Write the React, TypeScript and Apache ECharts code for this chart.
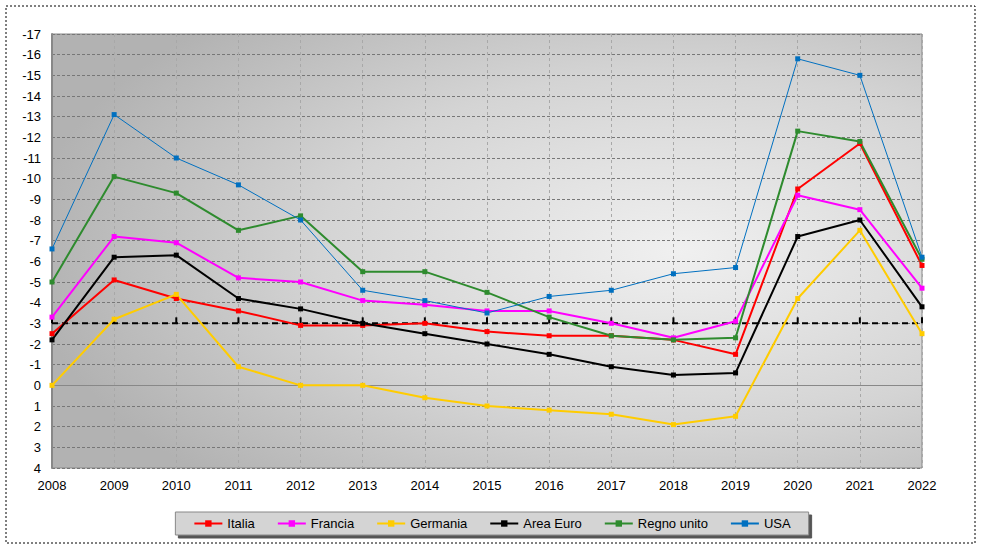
import React, { useEffect, useRef } from "react";
import * as echarts from "echarts";

const years = ["2008","2009","2010","2011","2012","2013","2014","2015","2016","2017","2018","2019","2020","2021","2022"];
const italia = [-2.5,-5.1,-4.2,-3.6,-2.9,-2.9,-3.0,-2.6,-2.4,-2.4,-2.2,-1.5,-9.5,-11.7,-5.8];
const francia = [-3.3,-7.2,-6.9,-5.2,-5.0,-4.1,-3.9,-3.6,-3.6,-3.0,-2.3,-3.1,-9.2,-8.5,-4.7];
const germania = [0.0,-3.2,-4.4,-0.9,0.0,0.0,0.6,1.0,1.2,1.4,1.9,1.5,-4.2,-7.5,-2.5];
const areaEuro = [-2.2,-6.2,-6.3,-4.2,-3.7,-3.0,-2.5,-2.0,-1.5,-0.9,-0.5,-0.6,-7.2,-8.0,-3.8];
const regnoUnito = [-5.0,-10.1,-9.3,-7.5,-8.2,-5.5,-5.5,-4.5,-3.3,-2.4,-2.2,-2.3,-12.3,-11.8,-6.1];
const usa = [-6.6,-13.1,-11.0,-9.7,-8.0,-4.6,-4.1,-3.5,-4.3,-4.6,-5.4,-5.7,-15.8,-15.0,-6.2];
const soglia = [-3,-3,-3,-3,-3,-3,-3,-3,-3,-3,-3,-3,-3,-3,-3];

const seriesDefs = [
  { name: "Italia", data: italia, color: "#ff0000", width: 2 },
  { name: "Francia", data: francia, color: "#ff00ff", width: 2 },
  { name: "Germania", data: germania, color: "#ffcc00", width: 2 },
  { name: "Area Euro", data: areaEuro, color: "#000000", width: 2 },
  { name: "Regno unito", data: regnoUnito, color: "#2e8b2e", width: 2 },
  { name: "USA", data: usa, color: "#0070c0", width: 1 },
];

export default function App() {
  const ref = useRef<HTMLDivElement>(null);
  useEffect(() => {
    if (!ref.current) return;
    const chart = echarts.init(ref.current, null, { renderer: "svg" });
    const font = "Arial, 'Liberation Sans', sans-serif";
    chart.setOption({
      animation: false,
      backgroundColor: "#ffffff",
      textStyle: { fontFamily: font },
      graphic: [
        {
          type: "rect",
          shape: { x: 6, y: 6, width: 969, height: 537 },
          style: { fill: "none", stroke: "#000", lineWidth: 1, lineDash: [2, 2] },
          silent: true,
          z: 0,
        },
      ],
      grid: {
        left: 52,
        right: 62,
        top: 34,
        bottom: 83,
        show: true,
        borderColor: "#888",
        borderWidth: 1,
        backgroundColor: new echarts.graphic.RadialGradient(0.72, 0.5, 0.75, [
          { offset: 0, color: "#f0f0f0" },
          { offset: 0.55, color: "#d4d4d4" },
          { offset: 1, color: "#b2b2b2" },
        ]),
      },
      legend: {
        bottom: 16,
        left: "center",
        itemWidth: 28,
        itemHeight: 8,
        itemGap: 22,
        padding: [5, 18, 5, 18],
        backgroundColor: "#d4d4d4",
        borderColor: "#888",
        borderWidth: 1,
        shadowColor: "#555",
        shadowOffsetX: 3,
        shadowOffsetY: 3,
        shadowBlur: 0,
        textStyle: { fontSize: 13, color: "#000", fontFamily: font },
        data: seriesDefs.map((s) => s.name),
      },
      xAxis: {
        type: "category",
        data: years,
        boundaryGap: false,
        axisLine: { show: true, lineStyle: { color: "#888" } },
        axisTick: { show: false },
        axisLabel: { color: "#000", fontSize: 13, margin: 11, fontFamily: font },
        splitLine: { show: true, lineStyle: { color: "#a8a8a8", type: [3, 3] } },
      },
      yAxis: {
        type: "value",
        inverse: true,
        min: -17,
        max: 4,
        interval: 1,
        axisLine: { show: true, lineStyle: { color: "#888", width: 2 } },
        axisTick: { show: false },
        axisLabel: { color: "#000", fontSize: 13, margin: 11, fontFamily: font },
        splitLine: { show: true, lineStyle: { color: "#777", type: [3, 2] } },
      },
      series: [
        {
          name: "soglia",
          type: "line",
          data: soglia,
          symbol: "rect",
          symbolSize: [2, 6],
          symbolOffset: [0, -3],
          itemStyle: { color: "#000" },
          lineStyle: { color: "#000", width: 2, type: [6, 4] },
          z: 1,
          silent: true,
        },
        ...seriesDefs.map((s) => ({
          name: s.name,
          type: "line",
          data: s.data,
          symbol: "rect",
          symbolSize: 5,
          itemStyle: { color: s.color },
          lineStyle: { color: s.color, width: s.width },
          z: 3,
        })),
      ],
    });
    return () => chart.dispose();
  }, []);
  return (
    <div
      ref={ref}
      style={{ position: "fixed", left: 0, top: 0, width: 984, height: 551 }}
    />
  );
}
